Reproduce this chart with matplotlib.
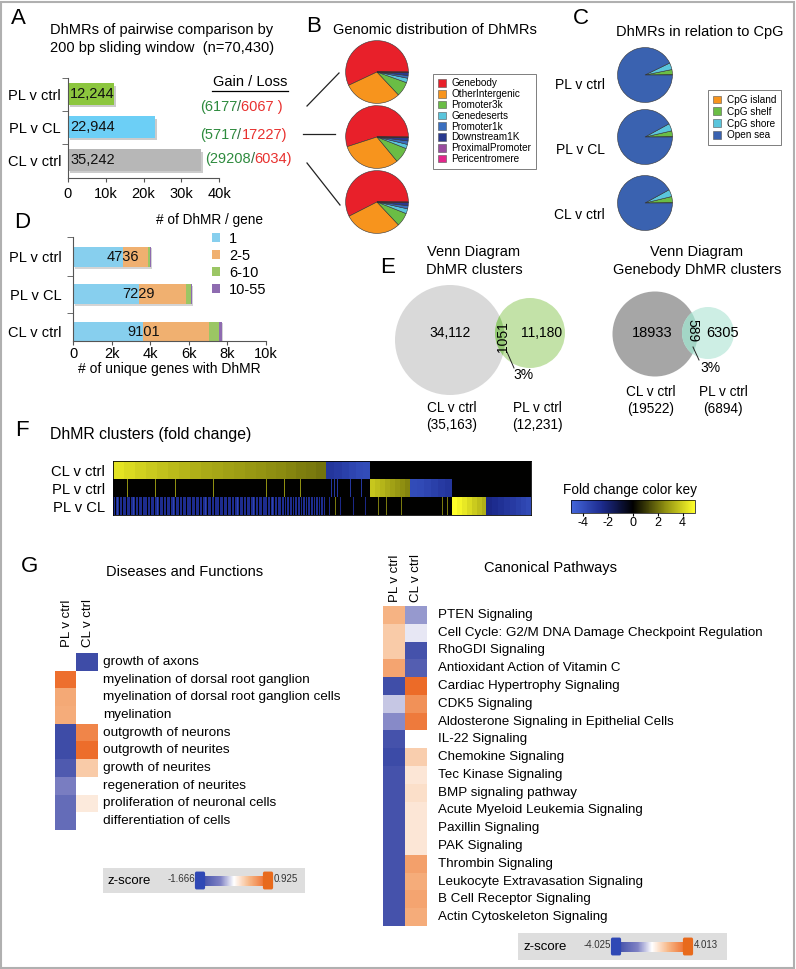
import numpy as np
import matplotlib
matplotlib.use("Agg")
import matplotlib.pyplot as plt
from matplotlib.patches import Rectangle, Circle, Patch, FancyBboxPatch
from matplotlib.lines import Line2D
from matplotlib.colors import LinearSegmentedColormap, TwoSlopeNorm, Normalize
from matplotlib.cm import ScalarMappable
from matplotlib import font_manager
import matplotlib.patheffects as pe

plt.rcParams['font.family'] = ['Liberation Sans', 'DejaVu Sans']
plt.rcParams['axes.unicode_minus'] = False
try:
    font_manager.findfont('Liberation Sans Narrow', fallback_to_default=False)
    NARROW, NK = ['Liberation Sans Narrow', 'Liberation Sans'], 1.0
except Exception:
    NARROW, NK = ['Liberation Sans', 'DejaVu Sans'], 0.82

# ---------------- data ----------------
# A
a_groups = ['PL v ctrl', 'PL v CL', 'CL v ctrl']
a_counts = [12244, 22944, 35242]
a_gain = [6177, 5717, 29208]
a_loss = [6067, 17227, 6034]

# B  (percent of DhMRs)
b_cats = ['Genebody', 'OtherIntergenic', 'Promoter3k', 'Genedeserts',
          'Promoter1k', 'Downstream1K', 'ProximalPromoter', 'Pericentromere']
b_pl_ctrl = [57.0, 30.0, 7.5, 2.3, 1.4, 1.5, 0.2, 0.1]
b_pl_cl = [55.0, 31.0, 8.0, 2.2, 1.8, 1.7, 0.2, 0.1]
b_cl_ctrl = [57.5, 29.5, 7.0, 2.5, 1.6, 1.6, 0.2, 0.1]

# C
c_cats = ['CpG island', 'CpG shelf', 'CpG shore', 'Open sea']
c_pl_ctrl = [0.2, 3.0, 4.0, 92.8]
c_pl_cl = [0.2, 3.4, 4.4, 92.0]
c_cl_ctrl = [0.2, 3.6, 4.2, 92.0]

# D  (# unique genes by # of DhMR per gene)
d_bins = ['1', '2-5', '6-10', '10-55']
d_pl_ctrl = [2600, 1300, 100, 20]
d_pl_cl = [3400, 2450, 250, 50]
d_cl_ctrl = [3650, 3400, 500, 150]
d_totals = ['4736', '7229', '9101']

# E  Venn counts
e1_only_a, e1_both, e1_only_b = '34,112', '1051', '11,180'
e1_tot = ['(35,163)', '(12,231)']
e2_only_a, e2_both, e2_only_b = '18933', '589', '6305'
e2_tot = ['(19522)', '(6894)']

# F  fold change per cluster segment (levels left to right)
f_rows = ['CL v ctrl', 'PL v ctrl', 'PL v CL']
f_seg_widths = [213, 44, 40, 42, 34, 45]
f_cl_ctrl = [[4.4, 4.2, 4.0, 3.85, 3.7, 3.55, 3.4, 3.3, 3.2, 3.1, 3.0, 2.9, 2.8, 2.7,
              2.6, 2.5, 2.4, 2.3, 2.2, 2.1],
             [-3.0, -3.2, -3.4, -3.6, -3.8, -3.9], [0], [0], [0], [0]]
f_pl_ctrl = [[0], [0], [3.8, 3.6, 3.4, 3.2, 3.0, 2.8, 2.6, 2.4],
             [-3.9, -3.8, -3.6, -3.4, -3.2, -3.0], [0], [0]]
f_pl_cl = [[-2.6], [0], [0], [0], [5.0, 4.8, 4.5, 4.2, 3.9, 3.6, 3.3],
           [-2.4, -2.6, -2.8, -3.0, -3.2, -3.4, -3.6, -3.8]]
f_pl_ctrl_yellow = [14, 42, 62, 100, 153, 171, 187]
f_pl_ctrl_blue = [218, 221, 224, 237, 248]
f_pl_cl_gaps = [2, 6, 9, 13, 17, 22, 25, 29, 34, 37, 41, 46, 50, 53, 57, 62, 66, 69, 73,
                78, 82, 86, 89, 94, 98, 101, 106, 110, 114, 118, 121, 126, 130, 133, 137,
                142, 145, 149, 154, 157, 161, 164, 168, 171, 173, 176, 179, 181, 184, 187,
                189, 192, 194, 197, 200, 202, 205, 207, 210, 212]
f_pl_cl_bright = [4, 20, 44, 60, 92, 124, 140, 159]
f_pl_cl_blue = [216, 227, 240, 252]
f_pl_cl_yellow = [222, 265, 273, 288, 329, 334]

# G
g_dis_terms = ['growth of axons', 'myelination of dorsal root ganglion',
               'myelination of dorsal root ganglion cells', 'myelination',
               'outgrowth of neurons', 'outgrowth of neurites', 'growth of neurites',
               'regeneration of neurites', 'proliferation of neuronal cells',
               'differentiation of cells']
g_dis_pl = [np.nan, 0.85, 0.5, 0.48, -1.6, -1.6, -1.35, -0.75, -1.05, -1.05]
g_dis_cl = [-1.6, np.nan, np.nan, np.nan, 0.72, 0.86, 0.3, np.nan, 0.12, np.nan]

g_path_terms = ['PTEN Signaling', 'Cell Cycle: G2/M DNA Damage Checkpoint Regulation',
                'RhoGDI Signaling', 'Antioxidant Action of Vitamin C',
                'Cardiac Hypertrophy Signaling', 'CDK5 Signaling',
                'Aldosterone Signaling in Epithelial Cells', 'IL-22 Signaling',
                'Chemokine Signaling', 'Tec Kinase Signaling', 'BMP signaling pathway',
                'Acute Myeloid Leukemia Signaling', 'Paxillin Signaling', 'PAK Signaling',
                'Thrombin Signaling', 'Leukocyte Extravasation Signaling',
                'B Cell Receptor Signaling', 'Actin Cytoskeleton Signaling']
g_path_pl = [1.9, 1.3, 1.3, 2.3, -3.8, -0.7, -1.5, -3.6, -3.9, -3.6, -3.6, -3.6,
             -3.6, -3.6, -3.6, -3.6, -3.6, -3.6]
g_path_cl = [-1.3, -0.3, -3.6, -3.1, 3.8, 2.8, 3.4, np.nan, 1.2, 0.6, 0.8, 0.6,
             0.6, 0.6, 2.4, 2.1, 2.3, 2.1]

# ---------------- helpers ----------------
W, H = 796, 969
fig = plt.figure(figsize=(W / 100, H / 100), dpi=100)


def box(x, y, w, h):
    return fig.add_axes([x / W, 1 - (y + h) / H, w / W, h / H])


def txt(x, y, s, **kw):
    kw.setdefault('va', 'center')
    return fig.text(x / W, 1 - y / H, s, **kw)


def line(x0, y0, x1, y1, **kw):
    fig.add_artist(Line2D([x0 / W, x1 / W], [1 - y0 / H, 1 - y1 / H],
                          transform=fig.transFigure, **kw))


def letter(x, y, s):
    txt(x, y, s, fontsize=16, ha='center')


fig.add_artist(Rectangle((1 / W, 1 / H), (W - 3) / W, (H - 3) / H, fill=False,
                         edgecolor='#b0b0b0', lw=1.5, transform=fig.transFigure))

# ---------------- A ----------------
letter(18, 19, 'A')
txt(162, 30, 'DhMRs of pairwise comparison by', fontsize=10.5, ha='center')
txt(162, 48, '200 bp sliding window  (n=70,430)', fontsize=10.5, ha='center')

axA = box(68, 78, 151, 100)
a_colors = ['#8cc63e', '#6ccff6', '#b7b7b7']
bars = axA.barh(range(3), a_counts, height=0.64, color=a_colors)
for b in bars:
    b.set_path_effects([pe.SimplePatchShadow(offset=(1.5, -1.5), shadow_rgbFace='#999999', alpha=0.5),
                        pe.Normal()])
for i, v in enumerate(a_counts):
    axA.text(600, i, f'{v:,}', va='center', ha='left', fontsize=10.5, color='#111')
axA.set_xlim(0, 40000)
axA.set_ylim(2.545, -0.485)
axA.set_yticks(range(3))
axA.set_yticklabels(a_groups, fontsize=10.5)
axA.set_yticks([-0.485, 0.5, 1.5], minor=True)
axA.tick_params(axis='y', which='major', length=0, pad=5)
axA.tick_params(axis='y', which='minor', length=4, color='#555')
axA.set_xticks([0, 10000, 20000, 30000, 40000])
axA.set_xticklabels(['0', '10k', '20k', '30k', '40k'], fontsize=10.5)
axA.tick_params(axis='x', length=3, color='#555')
for s in ['top', 'right']:
    axA.spines[s].set_visible(False)
for s in ['left', 'bottom']:
    axA.spines[s].set_color('#555')

txt(250, 82, 'Gain / Loss', fontsize=10.5, ha='center')
line(212, 91, 288, 91, color='k', lw=0.9)
gl_pos = [(200, 107), (200, 135), (205, 159)]
for (x, y), g, l, i in zip(gl_pos, a_gain, a_loss, range(3)):
    t = txt(x, y, f'({g}', fontsize=10.5, ha='left', color='#2e8b3e')
    t = axA.annotate('/', xy=(1, 0), xycoords=t, va='bottom', ha='left', fontsize=10.5,
                     color='#2e6b3e', annotation_clip=False)
    tail = f'{l} )' if i == 0 else f'{l})'
    axA.annotate(tail, xy=(1, 0), xycoords=t, va='bottom', ha='left', fontsize=10.5,
                 color='#e8312f', annotation_clip=False)

# ---------------- B ----------------
letter(314, 27, 'B')
txt(333, 30, 'Genomic distribution of DhMRs', fontsize=10.5, ha='left')
b_colors = ['#e8202a', '#f7941d', '#6abd45', '#5ac5dc', '#3a6fbf', '#2a3a8f', '#9a4c9e', '#e3268b']
for cy, vals in zip([72, 137, 202], [b_pl_ctrl, b_pl_cl, b_cl_ctrl]):
    ax = box(377 - 32, cy - 32, 64, 64)
    ax.pie(vals, colors=b_colors, startangle=0, counterclock=True,
           wedgeprops=dict(edgecolor='#333333', linewidth=0.4))
    ax.set_xlim(-1.02, 1.02)
    ax.set_ylim(-1.02, 1.02)
    ax.set_aspect('equal')
    ax.axis('off')
line(307, 106, 339, 73, color='#222', lw=0.9)
line(303, 134, 335, 134, color='#222', lw=0.9)
line(307, 163, 340, 205, color='#222', lw=0.9)
legB = fig.legend(handles=[Patch(facecolor=c, edgecolor='#555', lw=0.4, label=l)
                           for c, l in zip(b_colors, b_cats)],
                  loc='upper left', bbox_to_anchor=(433 / W, 1 - 74 / H), fontsize=7.2,
                  frameon=True, fancybox=False, edgecolor='#444', handlelength=0.8,
                  handleheight=0.8, handletextpad=0.6, labelspacing=0.08, borderpad=0.45,
                  borderaxespad=0)
legB.get_frame().set_linewidth(0.6)

# ---------------- C ----------------
letter(581, 18, 'C')
txt(700, 32, 'DhMRs in relation to CpG', fontsize=10.5, ha='center')
c_colors = ['#f7941d', '#6abd45', '#5ac5dc', '#3a62b0']
for cy, vals, lab, ly in zip([75, 137, 203], [c_pl_ctrl, c_pl_cl, c_cl_ctrl],
                             a_groups, [85, 150, 215]):
    ax = box(645 - 28, cy - 28, 56, 56)
    ax.pie(vals, colors=c_colors, startangle=0, counterclock=True,
           wedgeprops=dict(edgecolor='#333333', linewidth=0.4))
    ax.set_xlim(-1.02, 1.02)
    ax.set_ylim(-1.02, 1.02)
    ax.set_aspect('equal')
    ax.axis('off')
    txt(605, ly, lab, fontsize=10, ha='right')
legC = fig.legend(handles=[Patch(facecolor=c, edgecolor='#555', lw=0.4, label=l)
                           for c, l in zip(c_colors, c_cats)],
                  loc='upper left', bbox_to_anchor=(708 / W, 1 - 90 / H), fontsize=7.2,
                  frameon=True, fancybox=False, edgecolor='#444', handlelength=0.8,
                  handleheight=0.8, handletextpad=0.6, labelspacing=0.18, borderpad=0.5,
                  borderaxespad=0)
legC.get_frame().set_linewidth(0.6)

# ---------------- D ----------------
letter(22, 222, 'D')
axD = box(73, 237, 193, 104)
d_colors = ['#87cfee', '#f0b070', '#9bc664', '#8e6bb0']
d_mat = np.array([d_pl_ctrl, d_pl_cl, d_cl_ctrl])
left = np.zeros(3)
for j in range(4):
    bb = axD.barh(range(3), d_mat[:, j], left=left, height=0.54, color=d_colors[j],
                  label=d_bins[j])
    for b in bb:
        b.set_path_effects([pe.SimplePatchShadow(offset=(1.2, -1.2), shadow_rgbFace='#aaaaaa', alpha=0.5),
                            pe.Normal()])
    left += d_mat[:, j]
for i, s in enumerate(d_totals):
    axD.text(d_mat[i, 0], i, s, ha='center', va='center', fontsize=10.5, color='#111')
axD.set_xlim(0, 10000)
axD.set_ylim(2.25, -0.53)
axD.set_yticks(range(3))
axD.set_yticklabels(a_groups, fontsize=10.5)
axD.set_yticks([-0.53, 0.5, 1.5], minor=True)
axD.tick_params(axis='y', which='major', length=0, pad=8)
axD.tick_params(axis='y', which='minor', length=4, color='#555')
axD.set_xticks([0, 2000, 4000, 6000, 8000, 10000])
axD.set_xticklabels(['0', '2k', '4k', '6k', '8k', '10k'], fontsize=10.5)
axD.tick_params(axis='x', length=3, color='#555', pad=1)
axD.set_xlabel('# of unique genes with DhMR', fontsize=10, labelpad=1)
for s in ['top', 'right']:
    axD.spines[s].set_visible(False)
for s in ['left', 'bottom']:
    axD.spines[s].set_color('#555')
txt(210, 220, '# of DhMR / gene', fontsize=9.8, ha='center')
fig.legend(handles=[Patch(facecolor=c, label=l) for c, l in zip(d_colors, d_bins)],
           loc='upper left', bbox_to_anchor=(212 / W, 1 - 232 / H), fontsize=10.5,
           frameon=False, handlelength=0.55, handleheight=0.55, handletextpad=0.6,
           labelspacing=0.2, borderpad=0, borderaxespad=0)

# ---------------- E ----------------
letter(388, 267, 'E')
txt(474, 252, 'Venn Diagram', fontsize=10.5, ha='center')
txt(474, 270, 'DhMR clusters', fontsize=10.5, ha='center')
txt(697, 252, 'Venn Diagram', fontsize=10.5, ha='center')
txt(697, 270, 'Genebody DhMR clusters', fontsize=10.5, ha='center')

axE = box(300, 200, 496, 240)
axE.set_xlim(300, 796)
axE.set_ylim(440, 200)
axE.axis('off')


def venn(ax, ca, ra, cb, rb, col_a, col_b, col_ab):
    big = Circle(ca, ra, facecolor=col_a, edgecolor='none')
    ax.add_patch(big)
    ax.add_patch(Circle(cb, rb, facecolor=col_b, edgecolor='none'))
    ov = Circle(cb, rb, facecolor=col_ab, edgecolor='none')
    ax.add_patch(ov)
    ov.set_clip_path(big)


venn(axE, (450, 340), 55, (530, 333), 35, '#d9d9d9', '#c3e2a8', '#93c873')
axE.text(450, 333, e1_only_a, ha='center', va='center', fontsize=10)
axE.text(542, 333, e1_only_b, ha='center', va='center', fontsize=10)
axE.text(503, 337, e1_both, ha='center', va='center', fontsize=10, rotation=90)
axE.plot([507, 514], [352, 368], color='#222', lw=0.7)
axE.text(523, 375, '3%', ha='center', va='center', fontsize=10)

venn(axE, (655, 334), 42.5, (708, 333), 26, '#a6a6a6', '#cdeee4', '#a3d6c6')
axE.text(652, 333, e2_only_a, ha='center', va='center', fontsize=10.5)
axE.text(723, 333, e2_only_b, ha='center', va='center', fontsize=10.5)
axE.text(692, 331, e2_both, ha='center', va='center', fontsize=10, rotation=270)
axE.plot([693, 699], [347, 360], color='#222', lw=0.7)
axE.text(710, 368, '3%', ha='center', va='center', fontsize=10)

for x, lab, tot, y in [(452, 'CL v ctrl', e1_tot[0], 408), (537, 'PL v ctrl', e1_tot[1], 408),
                       (651, 'CL v ctrl', e2_tot[0], 392), (723, 'PL v ctrl', e2_tot[1], 392)]:
    txt(x, y, lab, fontsize=12 * NK, ha='center', family=NARROW)
    txt(x, y + 17, tot, fontsize=12 * NK, ha='center', family=NARROW)

# ---------------- F ----------------
letter(22, 431, 'F')
txt(50, 434, 'DhMR clusters (fold change)', fontsize=14 * NK, ha='left', family=NARROW)


def build_row(levels):
    out = []
    for w, lv in zip(f_seg_widths, levels):
        counts = [len(a) for a in np.array_split(np.arange(w), len(lv))]
        out.append(np.repeat(lv, counts))
    return np.concatenate(out).astype(float)


r0 = build_row(f_cl_ctrl)
r1 = build_row(f_pl_ctrl)
r1[f_pl_ctrl_yellow] = 2.6
r1[f_pl_ctrl_blue] = -3.0
r2 = build_row(f_pl_cl)
r2[f_pl_cl_gaps] = 0.0
r2[f_pl_cl_bright] = -3.6
r2[f_pl_cl_blue] = -2.4
r2[f_pl_cl_yellow] = 2.2
f_mat = np.vstack([r0, r1, r2])

fold_cmap = LinearSegmentedColormap.from_list('fold', ['#4467dc', '#1c2a8c', '#000000', '#8a8a10', '#ffff2a'],
                                              N=256)
axF = box(113, 461, 418, 54)
axF.imshow(f_mat, cmap=fold_cmap, vmin=-5, vmax=5, aspect='auto', interpolation='nearest')
axF.set_xticks([])
axF.set_yticks(range(3))
axF.set_yticklabels(f_rows, fontsize=13 * NK, family=NARROW)
axF.tick_params(axis='y', length=0, pad=6)
for s in axF.spines.values():
    s.set_linewidth(0.6)

txt(630, 490, 'Fold change color key', fontsize=12 * NK, ha='center', family=NARROW)
caxF = box(571, 500, 124, 13)
cbF = fig.colorbar(ScalarMappable(Normalize(-5, 5), fold_cmap), cax=caxF, orientation='horizontal')
cbF.set_ticks([-4, -2, 0, 2, 4])
cbF.ax.tick_params(labelsize=11 * NK, length=2, pad=1)
for t in cbF.ax.get_xticklabels():
    t.set_family(NARROW)
cbF.outline.set_linewidth(0.5)

# ---------------- G ----------------
letter(29, 567, 'G')
z_cmap = LinearSegmentedColormap.from_list(
    'z', [(0, '#3a49a6'), (0.3, '#7f82c4'), (0.5, '#ffffff'), (0.72, '#f7b98a'), (1, '#ec6420')])
z_cmap.set_bad('white')


def zheat(x, y, w, h, pl, cl, vmin, vmax, terms, tx, fs, lab_y):
    ax = box(x, y, w, h)
    m = np.ma.masked_invalid(np.array([pl, cl]).T)
    ax.imshow(m, cmap=z_cmap, norm=TwoSlopeNorm(0, vmin, vmax), aspect='auto',
              interpolation='nearest')
    ax.axis('off')
    rh = h / len(terms)
    for i, t in enumerate(terms):
        txt(tx, y + rh * (i + 0.5), t, fontsize=fs, ha='left')
    cw = w / 2
    for j, s in enumerate(['PL v ctrl', 'CL v ctrl']):
        txt(x + cw * (j + 0.5) + 1, lab_y, s, fontsize=9.5, rotation=90, ha='center', va='bottom')


def zkey(x0, y0, x1, y1, g0, g1, lo, hi, vmin, vmax):
    fig.add_artist(Rectangle((x0 / W, 1 - y1 / H), (x1 - x0) / W, (y1 - y0) / H, zorder=-5,
                             facecolor='#dedede', edgecolor='none', transform=fig.transFigure))
    yc = (y0 + y1) / 2
    txt(x0 + 5, yc + 1, 'z-score', fontsize=9.5, ha='left')
    txt(g0 - 5, yc - 1, lo, fontsize=7, ha='right', color='#333')
    txt(g1 + 6, yc - 1, hi, fontsize=7, ha='left', color='#333')
    cax = box(g0, yc - 5, g1 - g0, 10)
    cb = fig.colorbar(ScalarMappable(TwoSlopeNorm(0, vmin, vmax), z_cmap), cax=cax,
                      orientation='horizontal')
    cb.set_ticks([])
    cb.outline.set_visible(False)
    for gx, c in [(g0, '#2f48b5'), (g1, '#e86a1c')]:
        fig.add_artist(FancyBboxPatch(((gx - 3.5) / W, 1 - (yc + 7) / H), 7 / W, 14 / H,
                                      boxstyle='round,pad=0.002', facecolor=c, edgecolor='none',
                                      zorder=5, transform=fig.transFigure))


txt(185, 572, 'Diseases and Functions', fontsize=10.5, ha='center')
zheat(55, 653, 43, 177, g_dis_pl, g_dis_cl, -1.666, 0.925, g_dis_terms, 103, 9.7, 647)
zkey(103, 868, 305, 893, 200, 268, '-1.666', '0.925', -1.666, 0.925)

txt(550, 568, 'Canonical Pathways', fontsize=10.5, ha='center')
zheat(383, 606, 43, 320, g_path_pl, g_path_cl, -4.025, 4.013, g_path_terms, 438, 9.6, 602)
zkey(518, 933, 727, 960, 616, 688, '-4.025', '4.013', -4.025, 4.013)

fig.savefig('out.png', dpi=100)
